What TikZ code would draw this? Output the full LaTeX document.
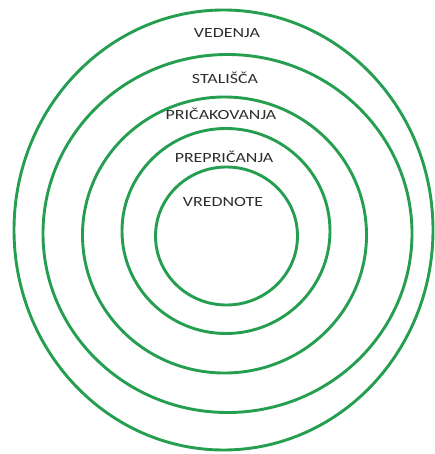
\documentclass[tikz,border=0pt]{standalone}
\usepackage{fontspec}
\setmainfont{Carlito}
\definecolor{ringgreen}{RGB}{38,158,80}
\definecolor{labelgray}{RGB}{45,45,45}
\tikzset{
  ring/.style={draw=ringgreen, line width=2.9pt},
  ringlabel/.style={text=labelgray, font=\fontsize{14}{16}\selectfont, xscale=1.28, inner sep=0pt}
}
\begin{document}
\begin{tikzpicture}[x=1pt,y=-1pt]
\useasboundingbox (0,0) rectangle (435,454);
\draw[ring] (223.5,230) ellipse [x radius=209.5, y radius=220];
\draw[ring] (227.5,233.5) ellipse [x radius=184.5, y radius=179];
\draw[ring] (224.5,235) ellipse [x radius=142, y radius=138];
\draw[ring] (226,231) ellipse [x radius=104, y radius=102.5];
\draw[ring] (226.5,236) ellipse [x radius=71, y radius=69];
\node[ringlabel] (l1) at (227,33) {VEDENJA};
\node[ringlabel] (l2) at (225,78) {STALIŠČA};
\node[ringlabel] (l3) at (221,114) {PRIČAKOVANJA};
\node[ringlabel] (l4) at (224,157) {PREPRIČANJA};
\node[ringlabel] (l5) at (223,202) {VREDNOTE};
\end{tikzpicture}
\end{document}
